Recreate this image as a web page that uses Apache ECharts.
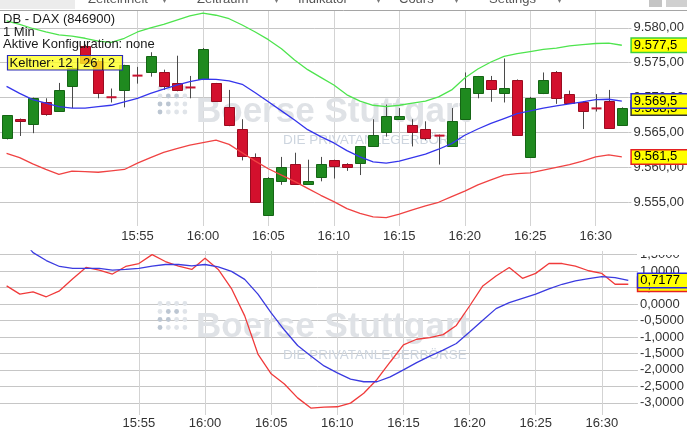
<!DOCTYPE html>
<html>
<head>
<meta charset="utf-8">
<script src="https://cdn.jsdelivr.net/npm/echarts@6/dist/echarts.min.js"></script>
<style>
  html, body { margin: 0; padding: 0; background: #fff; }
  #chart { width: 687px; height: 438px; }
</style>
</head>
<body>
<div id="chart"></div>
<script>
// 1-minute bars, DB - DAX (846900)
const categories = [
  '15:45','15:46','15:47','15:48','15:49','15:50','15:51','15:52','15:53','15:54',
  '15:55','15:56','15:57','15:58','15:59','16:00','16:01','16:02','16:03','16:04',
  '16:05','16:06','16:07','16:08','16:09','16:10','16:11','16:12','16:13','16:14',
  '16:15','16:16','16:17','16:18','16:19','16:20','16:21','16:22','16:23','16:24',
  '16:25','16:26','16:27','16:28','16:29','16:30','16:31','16:32'
];

const opens = [
  9564.2, 9567.0, 9566.2, 9569.4, 9568.1, 9571.6, 9577.4, 9575.3, 9570.1, 9571.1,
  9573.2, 9573.7, 9573.6, 9572.1, 9571.5, 9572.6, 9572.1, 9568.6, 9565.5, 9561.5,
  9553.2, 9558.1, 9560.5, 9557.6, 9558.6, 9561.0, 9560.5, 9560.6, 9563.1, 9565.0,
  9567.0, 9566.1, 9565.5, 9564.6, 9563.1, 9567.0, 9570.7, 9572.5, 9570.6, 9572.5,
  9561.5, 9570.6, 9573.6, 9570.5, 9569.4, 9568.5, 9569.5, 9566.1
];
const closes = [
  9567.5, 9566.7, 9570.0, 9567.6, 9571.1, 9574.2, 9575.0, 9570.7, 9570.0, 9574.6,
  9573.1, 9576.0, 9571.6, 9571.1, 9571.4, 9577.0, 9569.5, 9566.1, 9561.6, 9555.1,
  9558.5, 9560.1, 9557.6, 9558.0, 9560.5, 9560.2, 9560.1, 9563.0, 9564.6, 9567.4,
  9567.4, 9565.1, 9564.2, 9564.5, 9566.6, 9571.4, 9573.1, 9571.2, 9571.4, 9564.6,
  9570.0, 9572.5, 9570.0, 9569.2, 9568.1, 9568.4, 9565.6, 9568.5
];
const lows = [
  9564.0, 9564.5, 9564.9, 9567.4, 9568.0, 9568.5, 9574.8, 9569.9, 9569.3, 9568.6,
  9572.0, 9573.0, 9571.1, 9570.9, 9569.9, 9572.5, 9569.4, 9565.9, 9561.0, 9555.0,
  9553.1, 9557.5, 9557.5, 9557.5, 9558.0, 9558.4, 9559.5, 9558.9, 9563.0, 9564.4,
  9567.0, 9563.0, 9563.9, 9560.4, 9563.0, 9567.0, 9569.9, 9569.4, 9569.3, 9564.5,
  9561.4, 9570.5, 9569.1, 9569.1, 9565.5, 9568.0, 9565.5, 9566.0
];
const highs = [
  9567.5, 9567.0, 9570.0, 9569.9, 9572.1, 9574.6, 9577.6, 9575.5, 9571.3, 9574.7,
  9574.4, 9576.5, 9574.0, 9576.0, 9573.1, 9577.1, 9572.1, 9571.1, 9566.9, 9562.0,
  9558.6, 9561.5, 9562.1, 9561.1, 9561.5, 9561.1, 9560.6, 9563.0, 9566.9, 9569.0,
  9568.5, 9566.9, 9566.6, 9564.7, 9568.5, 9573.6, 9573.1, 9573.1, 9575.6, 9572.6,
  9570.1, 9573.6, 9573.8, 9571.0, 9569.5, 9570.5, 9571.1, 9568.6
];

// Keltner channel (12 | 26 | 2)
const keltnerUpper = [
  9581.0, 9580.5, 9579.9, 9579.4, 9579.0, 9578.8, 9578.5, 9578.1, 9577.9, 9578.5,
  9579.4, 9580.0, 9580.5, 9581.1, 9581.7, 9582.1, 9581.8, 9581.3, 9580.4, 9579.4,
  9578.3, 9577.0, 9575.4, 9574.0, 9572.9, 9571.8, 9570.4, 9569.5, 9568.9, 9568.7,
  9568.9, 9569.2, 9569.5, 9570.1, 9571.1, 9572.8, 9574.1, 9575.1, 9575.9, 9576.3,
  9576.6, 9576.9, 9577.1, 9577.4, 9577.6, 9577.75, 9577.8, 9577.5
];
const keltnerMiddle = [
  9571.6, 9570.6, 9569.7, 9569.2, 9568.7, 9568.5, 9568.5, 9568.7, 9568.9, 9569.4,
  9569.9, 9570.6, 9571.2, 9571.8, 9572.3, 9572.65, 9572.6, 9572.4, 9571.9, 9570.7,
  9569.4, 9568.1, 9566.8, 9565.4, 9564.4, 9563.5, 9562.4, 9561.5, 9560.8, 9560.6,
  9560.9, 9561.4, 9561.9, 9562.6, 9563.4, 9564.6, 9565.5, 9566.3, 9567.0, 9567.7,
  9568.1, 9568.5, 9568.8, 9569.1, 9569.4, 9569.7, 9569.76, 9569.5
];
const keltnerLower = [
  9562.0, 9561.4, 9560.5, 9559.7, 9559.0, 9559.45, 9559.4, 9559.3, 9559.5, 9559.7,
  9560.6, 9561.4, 9562.15, 9562.7, 9563.2, 9563.55, 9563.9, 9563.3, 9562.1, 9560.9,
  9559.8, 9558.9, 9558.0, 9557.0, 9556.0, 9555.1, 9554.1, 9553.4, 9552.9, 9552.8,
  9553.3, 9553.9, 9554.5, 9555.0, 9555.8, 9556.6, 9557.5, 9558.2, 9558.9, 9559.1,
  9559.2, 9559.6, 9560.0, 9560.4, 9560.9, 9561.5, 9561.8, 9561.5
];

// MACD and signal line
const macdLine = [
  0.55, 0.30, 0.37, 0.22, 0.40, 0.77, 1.11, 1.03, 0.91, 1.14,
  1.23, 1.50, 1.29, 1.15, 1.05, 1.39, 1.05, 0.47, -0.36, -1.52,
  -2.12, -2.43, -2.85, -3.16, -3.13, -3.12, -3.01, -2.71, -2.29, -1.76,
  -1.24, -1.07, -1.02, -0.93, -0.65, -0.06, 0.55, 0.85, 1.11, 0.78,
  0.93, 1.23, 1.23, 1.15, 1.01, 0.93, 0.60, 0.60
];
const signalLine = [
  null, 2.05, 1.56, 1.32, 1.14, 1.08, 1.08, 1.08, 1.03, 1.05,
  1.08, 1.15, 1.20, 1.20, 1.16, 1.20, 1.13, 0.99, 0.75, 0.30,
  -0.27, -0.79, -1.26, -1.58, -1.88, -2.09, -2.28, -2.36, -2.36, -2.21,
  -2.00, -1.78, -1.58, -1.40, -1.20, -0.85, -0.49, -0.14, 0.04, 0.17,
  0.30, 0.46, 0.60, 0.70, 0.77, 0.83, 0.80, 0.7177
];

const menuItems = ['Zeiteinheit', 'Zeitraum', 'Indikator', 'Cours', 'Settings'];
const infoLines = ['DB - DAX (846900)', '1 Min', 'Aktive Konfiguration: none'];
const indicatorTag = 'Keltner: 12 | 26 | 2';

const FONT = '"Liberation Sans", Arial, sans-serif';

// German number format: 9.580,00 / -0,5000
function fmtDE(v, digits) {
  const r = Math.round(v * 1e6) / 1e6;
  const s = Math.abs(r).toFixed(digits);
  const parts = s.split('.');
  const intPart = parts[0].replace(/\B(?=(\d{3})+(?!\d))/g, '.');
  return (r < 0 ? '-' : '') + intPart + (parts[1] ? ',' + parts[1] : '');
}

const candleData = categories.map((c, i) => [i, opens[i], closes[i], lows[i], highs[i]]);

// Candle: dark wick, filled body with a darker outline; flat bars become a short dash
function renderCandle(params, api) {
  const i = api.value(0);
  const o = api.value(1), c = api.value(2), l = api.value(3), h = api.value(4);
  const pO = api.coord([i, o]);
  const pC = api.coord([i, c]);
  const pL = api.coord([i, l]);
  const pH = api.coord([i, h]);
  const w = Math.round(api.size([1, 0])[0] * 0.8);
  const x = Math.round(pO[0]);
  const up = c > o;
  let top = Math.min(pO[1], pC[1]);
  let bot = Math.max(pO[1], pC[1]);
  const children = [{
    type: 'line',
    shape: { x1: x + 0.5, y1: pH[1], x2: x + 0.5, y2: pL[1] },
    style: { stroke: '#4a4a4a', lineWidth: 1 }
  }];
  if (bot - top < 2) {
    const m = (top + bot) / 2;
    children.push({
      type: 'rect',
      shape: { x: x - w / 2 + 0.5, y: m - 1, width: w, height: 2 },
      style: { fill: up ? '#1f8a1f' : '#c8102e' }
    });
  } else {
    top = Math.round(top) + 0.5;
    bot = Math.round(bot) + 0.5;
    children.push({
      type: 'rect',
      shape: { x: Math.round(x - w / 2) + 0.5, y: top, width: w, height: bot - top },
      style: { fill: up ? '#1f8a1f' : '#d3102d', stroke: up ? '#156515' : '#9a0c20', lineWidth: 1 }
    });
  }
  return { type: 'group', children: children };
}

// Yellow value tag at the right end of a line
function badge(border, digits) {
  return {
    show: true,
    formatter: p => fmtDE(Array.isArray(p.value) ? p.value[1] : p.value, digits),
    distance: 10, color: '#000', fontFamily: FONT, fontSize: 13, lineHeight: 12,
    backgroundColor: '#ffff00', borderColor: border, borderWidth: 1.5, padding: [1, 14, 0, 2]
  };
}

// Watermark: dot logo, wordmark and claim (drawn in each panel)
function watermark(dy) {
  const els = [];
  const xs = [160, 168.3, 176.6, 184.9];
  const ys = [88, 96, 104, 112];
  const dark = [[0, 0, 0, 0], [0, 1, 1, 0], [1, 1, 0, 0], [1, 0, 0, 0]];
  ys.forEach((y, r) => xs.forEach((x, c) => {
    els.push({ type: 'circle', z: 1, silent: true, shape: { cx: x, cy: y + dy, r: 2.4 },
      style: { fill: dark[r][c] ? '#bcc6d2' : '#e0e4e9' } });
  }));
  els.push({ type: 'text', z: 1, silent: true, x: 196, y: 112 + dy,
    style: { text: 'Boerse Stuttgart', fill: '#dfe2e6', font: 'bold 35px ' + FONT, verticalAlign: 'middle' } });
  els.push({ type: 'text', z: 1, silent: true, x: 283, y: 140 + dy,
    style: { text: 'DIE PRIVATANLEGERBÖRSE', fill: '#cdd5df', font: '13.5px ' + FONT, verticalAlign: 'middle' } });
  return els;
}

// Menu bar, info block and indicator tag
const menuX = [88, 197, 298, 399, 489];
const arrowX = [162, 274, 376, 454, 557];
const graphics = [];
graphics.push({ type: 'rect', z: 20, silent: true, shape: { x: 0, y: 0, width: 75, height: 9 }, style: { fill: '#ececec' } });
menuItems.forEach((t, i) => {
  graphics.push({ type: 'text', z: 21, silent: true, x: menuX[i], y: -1,
    style: { text: t, fill: '#555', font: '13px ' + FONT, verticalAlign: 'middle' } });
  graphics.push({ type: 'text', z: 21, silent: true, x: arrowX[i], y: 0,
    style: { text: '▾', fill: '#777', font: '10px ' + FONT, verticalAlign: 'middle' } });
});
graphics.push({ type: 'rect', z: 20, silent: true, shape: { x: 649, y: 0, width: 13, height: 7 }, style: { fill: '#c4c4c4' } });
graphics.push({ type: 'rect', z: 20, silent: true, shape: { x: 666, y: 0, width: 21, height: 7 }, style: { fill: '#d0d0d0' } });
graphics.push({ type: 'line', z: 20, silent: true, shape: { x1: 0, y1: 10.5, x2: 687, y2: 10.5 }, style: { stroke: '#a5a5a5', lineWidth: 1 } });
infoLines.forEach((t, i) => {
  graphics.push({ type: 'text', z: 30, silent: true, x: 3, y: 19.5 + i * 12.6,
    style: { text: t, fill: '#1a1a1a', font: '13px ' + FONT, verticalAlign: 'middle' } });
});
graphics.push({ type: 'rect', z: 30, silent: true, shape: { x: 7.5, y: 55.5, width: 115, height: 14.5 },
  style: { fill: 'rgba(255,255,30,0.78)', stroke: '#2a2ab5', lineWidth: 1.2 } });
graphics.push({ type: 'text', z: 31, silent: true, x: 9.5, y: 63,
  style: { text: indicatorTag, fill: '#111', font: '13px ' + FONT, verticalAlign: 'middle' } });
// lower panel's top edge cuts through its first axis label
graphics.push({ type: 'rect', z: 100, silent: true, shape: { x: 637, y: 240, width: 50, height: 15 }, style: { fill: '#ffffff' } });
watermark(0).concat(watermark(215.5)).forEach(e => graphics.push(e));

const labelEvery5 = (idx) => idx >= 10 && idx % 5 === 0;

function xAxisFor(gridIndex, margin) {
  return {
    type: 'category', gridIndex: gridIndex, data: categories, boundaryGap: true,
    axisLine: { show: false }, axisTick: { show: false },
    axisLabel: { interval: labelEvery5, margin: margin, color: '#333', fontFamily: FONT, fontSize: 13 },
    splitLine: { show: true, interval: labelEvery5, alignWithLabel: true, lineStyle: { color: '#d3d3d3', width: 1 } }
  };
}
function yAxisFor(gridIndex, min, max, splitNumber, digits) {
  return {
    type: 'value', gridIndex: gridIndex, position: 'right', min: min, max: max, splitNumber: splitNumber, scale: true,
    axisLine: { show: false },
    axisTick: { show: true, length: 3, lineStyle: { color: '#c6c6c6' } },
    axisLabel: { margin: 5, color: '#333', fontFamily: FONT, fontSize: 13, showMinLabel: false, showMaxLabel: false,
      formatter: v => fmtDE(v, digits) },
    splitLine: { show: true, showMinLine: false, showMaxLine: false, lineStyle: { color: '#c6c6c6', width: 1 } }
  };
}

const chart = echarts.init(document.getElementById('chart'), null, { renderer: 'canvas' });
chart.setOption({
  animation: false,
  backgroundColor: '#ffffff',
  textStyle: { fontFamily: FONT },
  grid: [
    { left: -1.8, width: 637, top: 10, height: 216 },
    { left: -1.8, width: 637, top: 251, height: 164 }
  ],
  xAxis: [xAxisFor(0, 4), xAxisFor(1, 2)],
  yAxis: [yAxisFor(0, 9551.6, 9582.55, 6, 2), yAxisFor(1, -3.37, 1.61, 10, 4)],
  graphic: graphics,
  series: [
    { name: 'DB - DAX', type: 'custom', xAxisIndex: 0, yAxisIndex: 0, z: 2, clip: true,
      renderItem: renderCandle, encode: { x: 0, y: [1, 2, 3, 4] }, data: candleData },
    { name: 'Kurs', type: 'line', xAxisIndex: 0, yAxisIndex: 0, z: 3, data: closes, symbol: 'none',
      lineStyle: { width: 0, opacity: 0 }, endLabel: badge('#333333', 1) },
    { name: 'Keltner oben', type: 'line', xAxisIndex: 0, yAxisIndex: 0, z: 4, data: keltnerUpper, symbol: 'none',
      lineStyle: { color: '#4ee44e', width: 1.3 }, endLabel: badge('#3ccf3c', 1) },
    { name: 'Keltner unten', type: 'line', xAxisIndex: 0, yAxisIndex: 0, z: 4, data: keltnerLower, symbol: 'none',
      lineStyle: { color: '#f04343', width: 1.3 }, endLabel: badge('#e52020', 1) },
    { name: 'Keltner Mitte', type: 'line', xAxisIndex: 0, yAxisIndex: 0, z: 5, data: keltnerMiddle, symbol: 'none',
      lineStyle: { color: '#3535ec', width: 1.3 }, endLabel: badge('#2727d8', 1) },
    { name: 'MACD', type: 'line', xAxisIndex: 1, yAxisIndex: 1, z: 3, data: macdLine, symbol: 'none',
      lineStyle: { color: '#f03a3a', width: 1.3 }, endLabel: badge('#e52020', 4) },
    { name: 'Signal', type: 'line', xAxisIndex: 1, yAxisIndex: 1, z: 4, data: signalLine, symbol: 'none',
      lineStyle: { color: '#3b3be0', width: 1.3 }, endLabel: badge('#2727d8', 4) }
  ]
});
</script>
</body>
</html>
